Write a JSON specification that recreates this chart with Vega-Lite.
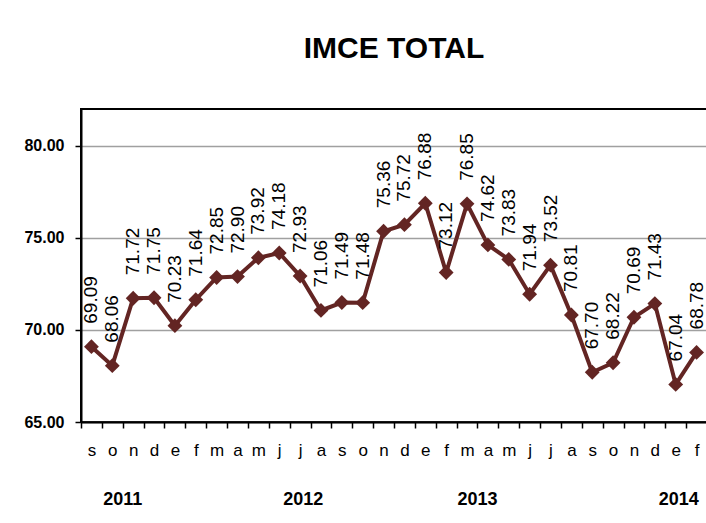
{
  "$schema": "https://vega.github.io/schema/vega-lite/v6.json",
  "width": 626,
  "height": 313,
  "padding": {"left": 23, "top": 34, "right": 0, "bottom": 0},
  "background": "white",
  "title": {
    "text": "IMCE TOTAL",
    "font": "Liberation Sans",
    "fontSize": 30,
    "fontWeight": "bold",
    "color": "#000000",
    "anchor": "middle",
    "offset": 45
  },
  "config": {
    "view": {"stroke": "#000000", "strokeWidth": 2},
    "axis": {
      "domainColor": "#000000",
      "domainWidth": 2,
      "tickColor": "#000000",
      "tickWidth": 1.5,
      "tickSize": 6,
      "labelColor": "#000000",
      "titleColor": "#000000"
    }
  },
  "datasets": {
    "imce": [
      {"periodo": "2011-09", "valor": 69.09},
      {"periodo": "2011-10", "valor": 68.06},
      {"periodo": "2011-11", "valor": 71.72},
      {"periodo": "2011-12", "valor": 71.75},
      {"periodo": "2012-01", "valor": 70.23},
      {"periodo": "2012-02", "valor": 71.64},
      {"periodo": "2012-03", "valor": 72.85},
      {"periodo": "2012-04", "valor": 72.90},
      {"periodo": "2012-05", "valor": 73.92},
      {"periodo": "2012-06", "valor": 74.18},
      {"periodo": "2012-07", "valor": 72.93},
      {"periodo": "2012-08", "valor": 71.06},
      {"periodo": "2012-09", "valor": 71.49},
      {"periodo": "2012-10", "valor": 71.48},
      {"periodo": "2012-11", "valor": 75.36},
      {"periodo": "2012-12", "valor": 75.72},
      {"periodo": "2013-01", "valor": 76.88},
      {"periodo": "2013-02", "valor": 73.12},
      {"periodo": "2013-03", "valor": 76.85},
      {"periodo": "2013-04", "valor": 74.62},
      {"periodo": "2013-05", "valor": 73.83},
      {"periodo": "2013-06", "valor": 71.94},
      {"periodo": "2013-07", "valor": 73.52},
      {"periodo": "2013-08", "valor": 70.81},
      {"periodo": "2013-09", "valor": 67.70},
      {"periodo": "2013-10", "valor": 68.22},
      {"periodo": "2013-11", "valor": 70.69},
      {"periodo": "2013-12", "valor": 71.43},
      {"periodo": "2014-01", "valor": 67.04},
      {"periodo": "2014-02", "valor": 68.78}
    ],
    "aniosA": [
      {"anio": "2011", "periodo": "2011-11"},
      {"anio": "2013", "periodo": "2013-04"}
    ],
    "aniosB": [
      {"anio": "2012", "periodo": "2012-07"},
      {"anio": "2014", "periodo": "2014-01"}
    ]
  },
  "layer": [
    {
      "data": {"name": "imce"},
      "mark": {"type": "line", "color": "#632523", "strokeWidth": 4},
      "encoding": {
        "x": {
          "field": "periodo",
          "type": "ordinal",
          "sort": null,
          "scale": {"type": "band", "paddingInner": 0, "paddingOuter": 0},
          "axis": {
            "title": null,
            "tickBand": "extent",
            "labelAngle": 0,
            "labelFont": "Liberation Sans",
            "labelFontSize": 17,
            "labelPadding": 14,
            "labelExpr": "isString(datum.value) && length(datum.value) >= 7 ? ['e','f','m','a','m','j','j','a','s','o','n','d'][toNumber(substring(datum.value,5,7))-1] : ''"
          }
        },
        "y": {
          "field": "valor",
          "type": "quantitative",
          "scale": {"domain": [65, 82], "nice": false, "zero": false},
          "axis": {
            "title": null,
            "values": [65, 70, 75, 80],
            "format": ".2f",
            "grid": true,
            "gridColor": "#a0a0a0",
            "gridWidth": 1.5,
            "labelFont": "Liberation Sans",
            "labelFontWeight": "bold",
            "labelFontSize": 16,
            "labelPadding": 11
          }
        }
      }
    },
    {
      "data": {"name": "imce"},
      "mark": {"type": "point", "shape": "diamond", "filled": true, "color": "#632523", "size": 220, "opacity": 1},
      "encoding": {
        "x": {"field": "periodo", "type": "ordinal", "sort": null},
        "y": {"field": "valor", "type": "quantitative"}
      }
    },
    {
      "data": {"name": "imce"},
      "mark": {
        "type": "text",
        "angle": 270,
        "align": "left",
        "baseline": "middle",
        "dx": 23,
        "font": "Liberation Sans",
        "fontSize": 19,
        "color": "#000000"
      },
      "encoding": {
        "x": {"field": "periodo", "type": "ordinal", "sort": null},
        "y": {"field": "valor", "type": "quantitative"},
        "text": {"field": "valor", "type": "quantitative", "format": ".2f"}
      }
    },
    {
      "data": {"name": "aniosA"},
      "mark": {
        "type": "text",
        "font": "Liberation Sans",
        "fontWeight": "bold",
        "fontSize": 18,
        "baseline": "middle",
        "align": "center",
        "dy": 78,
        "color": "#000000"
      },
      "encoding": {
        "x": {"field": "periodo", "type": "ordinal", "sort": null, "bandPosition": 0},
        "y": {"datum": 65},
        "text": {"field": "anio", "type": "nominal"}
      }
    },
    {
      "data": {"name": "aniosB"},
      "mark": {
        "type": "text",
        "font": "Liberation Sans",
        "fontWeight": "bold",
        "fontSize": 18,
        "baseline": "middle",
        "align": "center",
        "dy": 78,
        "color": "#000000"
      },
      "encoding": {
        "x": {"field": "periodo", "type": "ordinal", "sort": null, "bandPosition": 0.65},
        "y": {"datum": 65},
        "text": {"field": "anio", "type": "nominal"}
      }
    }
  ]
}
